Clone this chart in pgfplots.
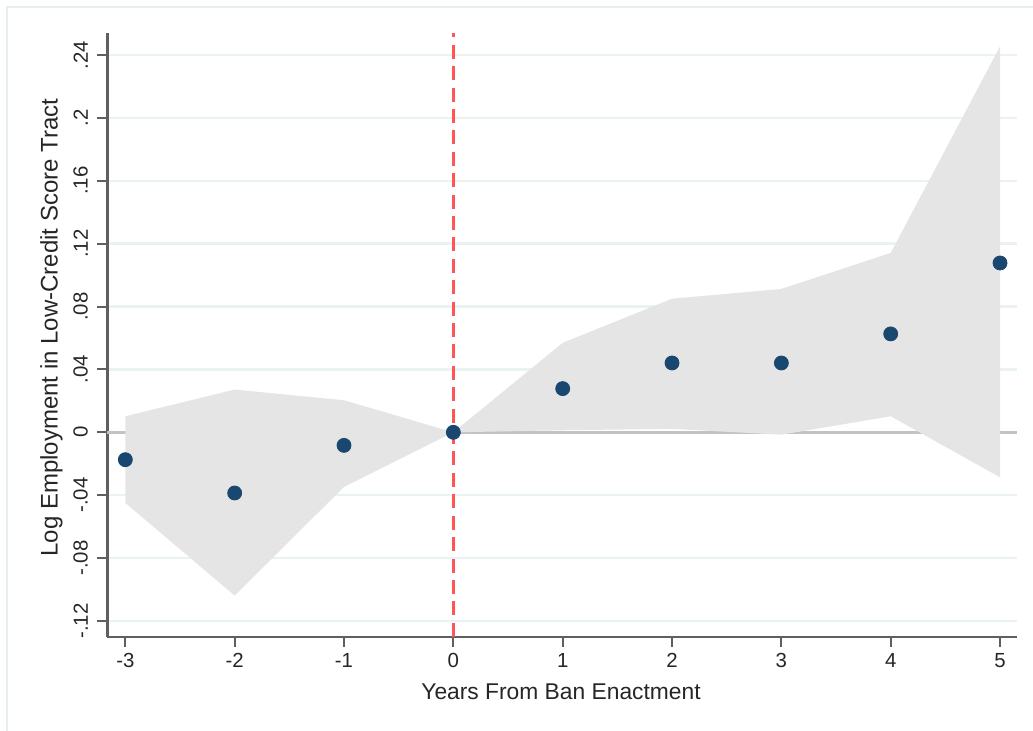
\documentclass[border=0pt]{standalone}
\usepackage{pgfplots}
\pgfplotsset{compat=1.18}
\usepackage{fontspec}
\setmainfont{Liberation Sans}
\definecolor{ciGray}{RGB}{229,229,229}
\definecolor{navy}{RGB}{26,71,111}
\definecolor{gridc}{RGB}{234,242,243}
\definecolor{redl}{RGB}{255,85,85}
\definecolor{axc}{RGB}{95,95,95}
\definecolor{zeroc}{RGB}{195,195,195}
\definecolor{framec}{RGB}{230,238,239}

\pgfplotstableread{
x y
-3 -0.0174
-2 -0.0386
-1 -0.0083
0 0
1 0.0278
2 0.0441
3 0.0441
4 0.0626
5 0.1077
}\pts

\begin{document}
\begin{tikzpicture}
\useasboundingbox (0,0) rectangle (516.5pt,-365.5pt);
\draw[framec, line width=1pt] (3.35pt,-366pt) -- (3.35pt,-3.35pt) -- (517pt,-3.35pt);
\begin{axis}[
  anchor=south west, at={(53.65pt,-318.35pt)},
  width=455pt, height=301.85pt, scale only axis,
  xmin=-3.165, xmax=5.158, ymin=-0.13, ymax=0.254,
  axis x line*=bottom, axis y line*=left,
  axis line style={-, axc, line width=1.2pt},
  xtick={-3,-2,-1,0,1,2,3,4,5},
  xticklabels={-3,-2,-1,0,1,2,3,4,5},
  ytick={-0.12,-0.08,-0.04,0,0.04,0.08,0.12,0.16,0.2,0.24},
  yticklabels={-.12,-.08,-.04,0,.04,.08,.12,.16,.2,.24},
  tick align=outside, major tick length=5pt,
  tick style={axc, line width=1pt},
  ymajorgrids, grid style={gridc, line width=1.2pt},
  ticklabel style={font=\fontsize{10.2}{12}\selectfont, text=black!85},
  y tick label style={rotate=90, anchor=south, inner sep=0pt},
  yticklabel shift=4.5pt,
  x tick label style={anchor=north, inner sep=0pt},
  xticklabel shift=3pt,
  xlabel={Years From Ban Enactment},
  ylabel={Log Employment in Low-Credit Score Tract},
  xlabel style={font=\fontsize{11.4}{13}\selectfont, text=black!85, at={(axis description cs:0.4986,-0.0767)}, anchor=north, inner sep=0pt},
  ylabel style={font=\fontsize{12}{14}\selectfont, text=black!85, at={(axis description cs:-0.0613,0.512)}, anchor=center, inner sep=0pt},
  clip=false,
]
\addplot[zeroc, line width=1.3pt] coordinates {(-3.165,0) (5.158,0)};
\addplot[fill=ciGray, draw=none] coordinates {
(-3,0.0102) (-2,0.0272) (-1,0.0204) (0,0) (1,0.0569) (2,0.085) (3,0.0912) (4,0.1141) (5,0.2455)
(5,-0.0286) (4,0.0102) (3,-0.0015) (2,0.0022) (1,0.0013) (0,0) (-1,-0.0347) (-2,-0.1039) (-3,-0.0449)
} -- cycle;
\addplot[redl, line width=1.4pt, dash pattern=on 7pt off 3.7pt] coordinates {(0,-0.13) (0,0.254)};
\addplot[only marks, mark=*, mark size=3.5pt, navy, mark options={draw=navy, fill=navy}] table[x=x,y=y] {\pts};
\end{axis}
\end{tikzpicture}
\end{document}
